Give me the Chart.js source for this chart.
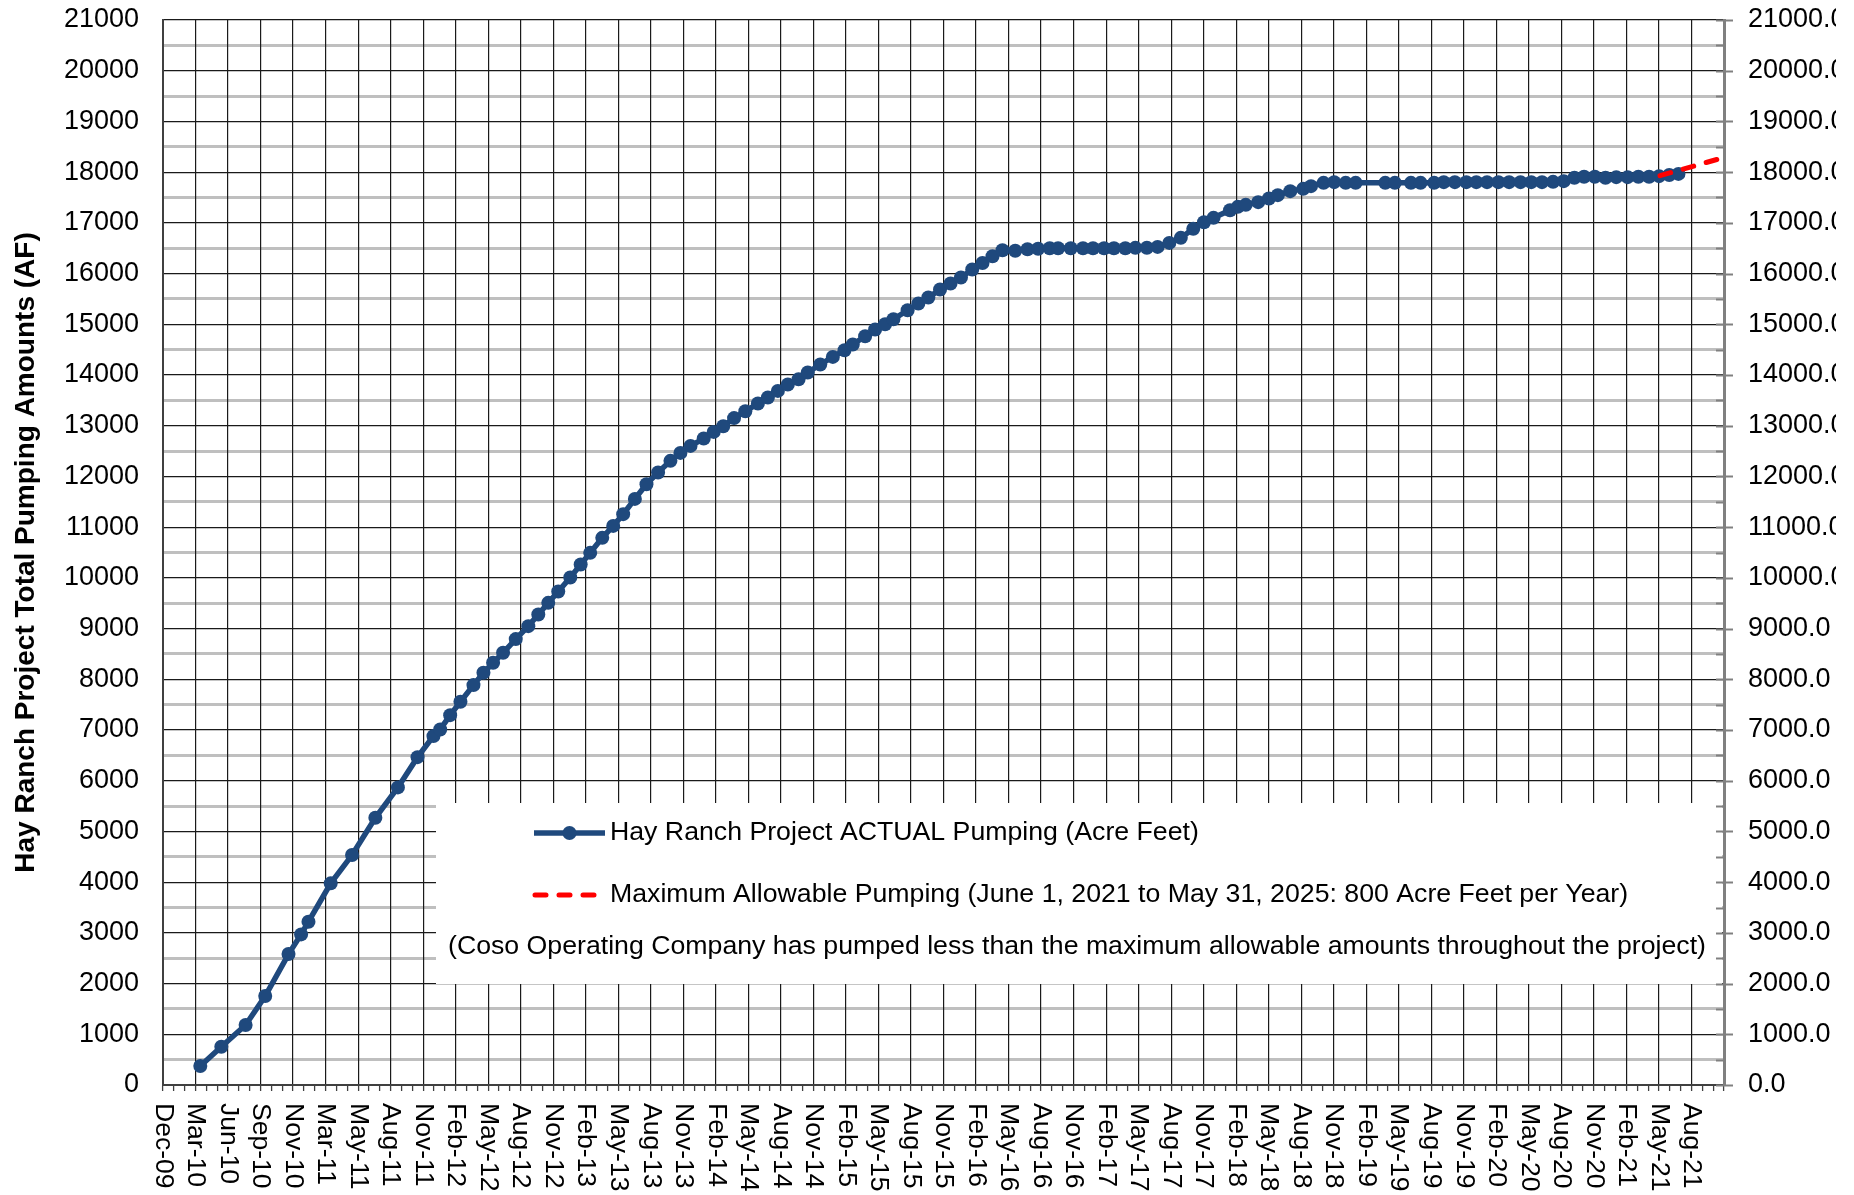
<!DOCTYPE html>
<html>
<head>
<meta charset="utf-8">
<script src="https://cdn.jsdelivr.net/npm/chart.js@4.4.1/dist/chart.umd.min.js"></script>
<style>
html,body{margin:0;padding:0;background:#ffffff;}
canvas{display:block;}
</style>
</head>
<body>
<canvas id="c" width="1854" height="1195"></canvas>
<script>
// ---- DATA ----
// x-axis tick labels, one per 3 months on the month axis (position 0 = Dec-09)
const tickLabels = ['Dec-09','Mar-10','Jun-10','Sep-10','Nov-10','Mar-11','May-11','Aug-11','Nov-11',
  'Feb-12','May-12','Aug-12','Nov-12','Feb-13','May-13','Aug-13','Nov-13',
  'Feb-14','May-14','Aug-14','Nov-14','Feb-15','May-15','Aug-15','Nov-15',
  'Feb-16','May-16','Aug-16','Nov-16','Feb-17','May-17','Aug-17','Nov-17',
  'Feb-18','May-18','Aug-18','Nov-18','Feb-19','May-19','Aug-19','Nov-19',
  'Feb-20','May-20','Aug-20','Nov-20','Feb-21','May-21','Aug-21'];

// Hay Ranch Project ACTUAL Pumping: position on the month axis, cumulative acre feet
const actualPos = [3.44,5.38,7.62,9.43,11.58,12.74,13.42,15.47,17.44,19.59,21.67,23.48,24.95,25.57,
  26.49,27.44,28.64,29.56,30.45,31.37,32.54,33.70,34.62,35.54,36.46,37.57,38.53,39.41,40.52,41.53,
  42.45,43.53,44.60,45.67,46.81,47.73,48.66,49.88,50.80,51.68,52.68,53.72,54.88,55.80,56.72,57.64,
  58.63,59.48,60.63,61.79,62.87,63.63,64.77,65.69,66.61,67.38,68.69,69.68,70.60,71.68,72.65,73.61,
  74.65,75.60,76.52,77.44,78.62,79.75,80.73,81.80,82.57,83.74,84.87,85.79,86.81,87.72,88.77,89.70,
  90.76,91.75,92.83,93.89,95.04,96.03,96.91,98.43,99.15,99.88,101.03,102.02,102.84,103.99,105.18,
  105.90,107.06,108.04,109.10,110.02,112.75,113.64,115.12,116.01,117.26,118.15,119.17,120.23,121.15,
  122.14,123.19,124.18,125.23,126.22,127.21,128.23,129.22,130.20,131.09,132.08,133.07,134.06,135.11,
  136.10,137.09,138.01,138.95,139.80];
const actualAF = [375,755,1183,1754,2582,2970,3220,3976,4534,5270,5868,6465,6880,7011,
  7293,7556,7885,8128,8325,8522,8792,9048,9278,9507,9732,10008,10264,10493,10789,11025,
  11256,11557,11847,12078,12307,12464,12602,12747,12878,12990,13150,13286,13437,13556,13686,13812,
  13917,14049,14207,14357,14489,14601,14765,14897,15001,15100,15277,15409,15527,15685,15803,15922,
  16079,16209,16341,16460,16450,16480,16490,16500,16500,16500,16500,16500,16500,16500,16500,16507,
  16510,16526,16605,16704,16882,17013,17099,17250,17316,17355,17408,17480,17546,17625,17671,
  17724,17789,17803,17789,17789,17789,17789,17789,17789,17789,17803,17803,17803,17803,
  17803,17803,17803,17803,17803,17803,17809,17822,17888,17908,17908,17888,17901,17901,
  17908,17908,17921,17945,17965];

// Maximum Allowable Pumping (800 AF per year from June 1, 2021)
const allowPos = [138.1, 144];
const allowAF = [17930, 18290];

const yTicksLeft = {min: 0, max: 21000, major: 1000, minor: 500};

const seriesNames = ['Hay Ranch Project ACTUAL Pumping (Acre Feet)',
  'Maximum Allowable Pumping (June 1, 2021 to May 31, 2025: 800 Acre Feet per Year)'];
const noteText = '(Coso Operating Company has pumped less than the maximum allowable amounts throughout the project)';
const yTitle = 'Hay Ranch Project Total Pumping Amounts (AF)';

// ---- STYLE ----
const FONT = "'Liberation Sans', Arial, sans-serif";
const BLUE = '#1F497D';
const RED = '#FF0000';
const MONTHS_PER_LABEL = 3;
const AXIS_MAX = tickLabels.length * MONTHS_PER_LABEL;
const IMAGE_RIGHT_EDGE = 1836;

const overlay = {
  id: 'overlay',
  beforeDatasetsDraw(chart) {
    const ctx = chart.ctx;
    const y2 = chart.scales.y2;
    ctx.save();
    // legend panel
    ctx.fillStyle = '#ffffff';
    ctx.fillRect(436, 803, 1722 - 436, 984 - 803);
    // ticks of secondary axis (minor inside, major crossing)
    ctx.strokeStyle = '#808080';
    ctx.lineWidth = 2;
    y2.ticks.forEach(t => {
      const py = Math.round(y2.getPixelForValue(t.value)) + 0.5;
      const major = t.value % yTicksLeft.major === 0;
      ctx.beginPath();
      ctx.moveTo(y2.left - 8, py);
      ctx.lineTo(major ? y2.left + 9 : y2.left, py);
      ctx.stroke();
    });
    // legend entries
    ctx.lineCap = 'butt';
    ctx.strokeStyle = BLUE;
    ctx.lineWidth = 5.5;
    ctx.beginPath(); ctx.moveTo(534, 833); ctx.lineTo(605, 833); ctx.stroke();
    ctx.fillStyle = BLUE;
    ctx.beginPath(); ctx.arc(569.5, 833, 7, 0, Math.PI * 2); ctx.fill();
    ctx.strokeStyle = RED;
    ctx.lineWidth = 5;
    ctx.lineCap = 'round';
    ctx.setLineDash([11, 13]);
    ctx.beginPath(); ctx.moveTo(535, 895); ctx.lineTo(597, 895); ctx.stroke();
    ctx.setLineDash([]);
    ctx.lineCap = 'butt';
    ctx.fillStyle = '#000';
    ctx.font = '26.7px ' + FONT;
    ctx.textAlign = 'left';
    ctx.textBaseline = 'middle';
    ctx.fillText(seriesNames[0], 610, 833);
    ctx.fillText(seriesNames[1], 610, 895);
    ctx.fillText(noteText, 448, 947);
    ctx.restore();
  },
  afterDraw(chart) {
    const ctx = chart.ctx;
    const x = chart.scales.x;
    ctx.save();
    ctx.fillStyle = '#000';
    ctx.font = '26.5px ' + FONT;
    ctx.textAlign = 'left';
    ctx.textBaseline = 'middle';
    tickLabels.forEach((lab, i) => {
      const px = x.getPixelForValue(i * MONTHS_PER_LABEL);
      ctx.save();
      ctx.translate(px, x.top + 18);
      ctx.rotate(Math.PI / 2);
      ctx.fillText(lab, 0, 0);
      ctx.restore();
    });
    // the original picture is cut off just right of the secondary labels
    ctx.fillStyle = '#ffffff';
    ctx.fillRect(IMAGE_RIGHT_EDGE, 0, chart.width - IMAGE_RIGHT_EDGE, chart.height);
    ctx.restore();
  }
};

function fitVertical(width) {
  return s => { s.width = width; s.paddingTop = 0; s.paddingBottom = 0; };
}

new Chart(document.getElementById('c'), {
  type: 'line',
  data: {
    datasets: [
      {
        label: seriesNames[0],
        data: actualPos.map((p, i) => ({x: p, y: actualAF[i]})),
        borderColor: BLUE,
        backgroundColor: BLUE,
        borderWidth: 5.5,
        pointRadius: 7,
        pointBorderWidth: 0,
        pointBackgroundColor: BLUE,
        tension: 0,
        order: 1,
        yAxisID: 'y'
      },
      {
        label: seriesNames[1],
        data: allowPos.map((p, i) => ({x: p, y: allowAF[i]})),
        borderColor: RED,
        borderWidth: 5,
        borderDash: [11, 13],
        borderCapStyle: 'round',
        pointRadius: 0,
        tension: 0,
        order: 0,
        yAxisID: 'y'
      }
    ]
  },
  options: {
    responsive: false,
    animation: false,
    devicePixelRatio: 1,
    layout: {padding: {top: 20, left: 0, right: 0, bottom: 0}},
    plugins: {legend: {display: false}, tooltip: {enabled: false}},
    scales: {
      x: {
        type: 'linear',
        min: 0,
        max: AXIS_MAX,
        afterFit: s => { s.height = 110; s.paddingLeft = 0; s.paddingRight = 0; },
        ticks: {display: false, stepSize: 1, autoSkip: false},
        grid: {
          z: -1,
          color: c => (c.tick && c.tick.value % MONTHS_PER_LABEL === 0) ? '#1a1a1a' : 'rgba(0,0,0,0)',
          lineWidth: 1.2,
          drawTicks: true,
          tickLength: 6,
          tickColor: '#404040',
          tickWidth: 1.3
        },
        border: {display: true, color: '#404040', width: 2}
      },
      y: {
        position: 'left',
        min: yTicksLeft.min,
        max: yTicksLeft.max,
        afterFit: fitVertical(163),
        ticks: {
          stepSize: yTicksLeft.minor,
          autoSkip: false,
          padding: 24,
          color: '#000',
          font: {family: FONT, size: 27},
          callback: v => (v % yTicksLeft.major === 0 ? String(v) : '')
        },
        grid: {
          z: -2,
          drawTicks: false,
          color: c => (c.tick && c.tick.value % yTicksLeft.major === 0) ? '#1a1a1a' : '#bfbfbf',
          lineWidth: c => (c.tick && c.tick.value % yTicksLeft.major === 0) ? 1.2 : 3
        },
        border: {display: true, color: '#404040', width: 2},
        title: {
          display: true,
          text: yTitle,
          color: '#000',
          font: {family: FONT, size: 28, weight: 'bold'},
          padding: {top: 9, bottom: 0}
        }
      },
      y2: {
        position: 'right',
        min: yTicksLeft.min,
        max: yTicksLeft.max,
        afterFit: fitVertical(130),
        ticks: {
          stepSize: yTicksLeft.minor,
          autoSkip: false,
          padding: 24,
          color: '#000',
          font: {family: FONT, size: 27},
          callback: v => (v % yTicksLeft.major === 0 ? v.toFixed(1) : '')
        },
        grid: {drawOnChartArea: false, drawTicks: false},
        border: {display: true, color: '#808080', width: 3}
      }
    }
  },
  plugins: [overlay]
});
</script>
</body>
</html>
